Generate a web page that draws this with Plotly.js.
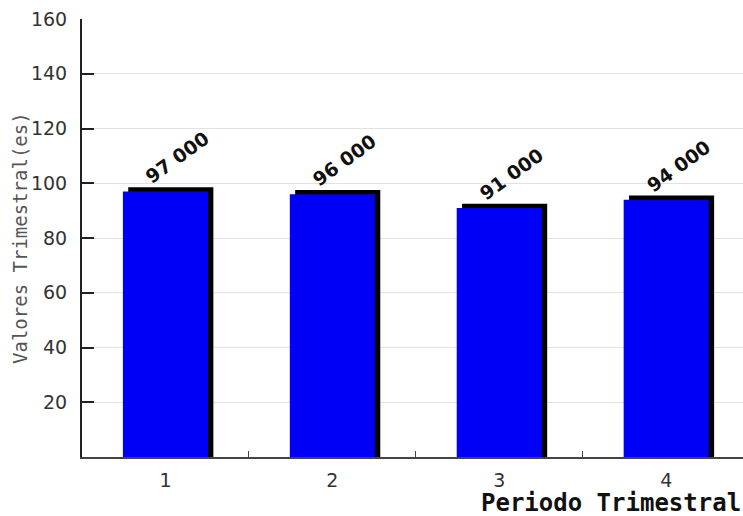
<!DOCTYPE html>
<html>
<head>
<meta charset="utf-8">
<script src="https://cdn.plot.ly/plotly-3.0.1.min.js"></script>
<style>
  html, body { margin: 0; padding: 0; background: #ffffff; overflow: hidden; }
  #chart { width: 743px; height: 516px; }
</style>
</head>
<body>
<div id="chart"></div>
<script>
// Quarterly values
const periods = ["1", "2", "3", "4"];
const quarterValues = [97000, 96000, 91000, 94000];
const yTickValues = [20, 40, 60, 80, 100, 120, 140, 160];
const yTickText = ["20", "40", "60", "80", "100", "120", "140", "160"];

const scaled = quarterValues.map(v => v / 1000);
const fmt = v => String(v).replace(/\B(?=(\d{3})+(?!\d))/g, " ");

const barWidth = 0.51;
const depthX = 0.032;   // extrusion to the right (category units)
const depthY = 1.5;     // extrusion upward (value units)

// dark extrusion behind the front face
const shadow = {
  type: "bar",
  x: periods,
  y: scaled.map(v => v + depthY),
  width: barWidth,
  offset: -barWidth / 2 + depthX,
  marker: { color: "#000000", line: { width: 0 } },
  hoverinfo: "skip",
  showlegend: false
};

// front face
const front = {
  type: "bar",
  x: periods,
  y: scaled,
  width: barWidth,
  offset: -barWidth / 2,
  marker: { color: "#0000f6", line: { width: 0 } },
  showlegend: false
};

// value labels, positioned by category index
const annotations = periods.map((p, i) => ({
  x: i,
  y: scaled[i],
  xref: "x",
  yref: "y",
  text: "<b>" + fmt(quarterValues[i]) + "</b>",
  showarrow: false,
  textangle: -36,
  xanchor: "center",
  yanchor: "middle",
  xshift: 12,
  yshift: 34,
  font: { family: "DejaVu Sans", size: 19, color: "#111111" }
}));

// y-axis title
annotations.push({
  xref: "paper",
  yref: "paper",
  x: 0,
  y: 0.5,
  xanchor: "center",
  yanchor: "middle",
  xshift: -62,
  text: "Valores Trimestral(es)",
  textangle: -90,
  showarrow: false,
  font: { family: "DejaVu Sans Mono", size: 19, color: "#555555" }
});

// x-axis title
annotations.push({
  xref: "paper",
  yref: "paper",
  x: 1.0,
  y: 0,
  xanchor: "right",
  yanchor: "bottom",
  yshift: -62,
  text: "<b>Periodo Trimestral</b>",
  showarrow: false,
  font: { family: "DejaVu Sans Mono", size: 24, color: "#111111" }
});

const tickFont = { family: "DejaVu Sans", size: 19, color: "#333333" };

const layout = {
  width: 743,
  height: 516,
  margin: { l: 82, r: 0, t: 19, b: 59 },
  font: { family: "DejaVu Sans", size: 19, color: "#333333" },
  paper_bgcolor: "#ffffff",
  plot_bgcolor: "#ffffff",
  barmode: "overlay",
  showlegend: false,
  xaxis: {
    type: "category",
    range: [-0.5, 3.46],
    showgrid: false,
    showline: true,
    linecolor: "#444444",
    linewidth: 2,
    ticks: "inside",
    tickson: "boundaries",
    ticklen: 6,
    tickcolor: "#444444",
    tickwidth: 1,
    ticklabelstandoff: 5,
    tickfont: tickFont,
    zeroline: false,
    fixedrange: true
  },
  yaxis: {
    range: [0, 160],
    tickvals: yTickValues,
    ticktext: yTickText,
    showgrid: true,
    gridcolor: "#e2e2e2",
    gridwidth: 1,
    showline: true,
    linecolor: "#222222",
    linewidth: 2,
    ticks: "inside",
    ticklen: 12,
    tickcolor: "#222222",
    tickwidth: 2,
    ticklabelstandoff: 9,
    tickfont: tickFont,
    zeroline: false,
    fixedrange: true
  },
  annotations: annotations
};

Plotly.newPlot("chart", [shadow, front], layout, { displayModeBar: false, staticPlot: true });
</script>
</body>
</html>
